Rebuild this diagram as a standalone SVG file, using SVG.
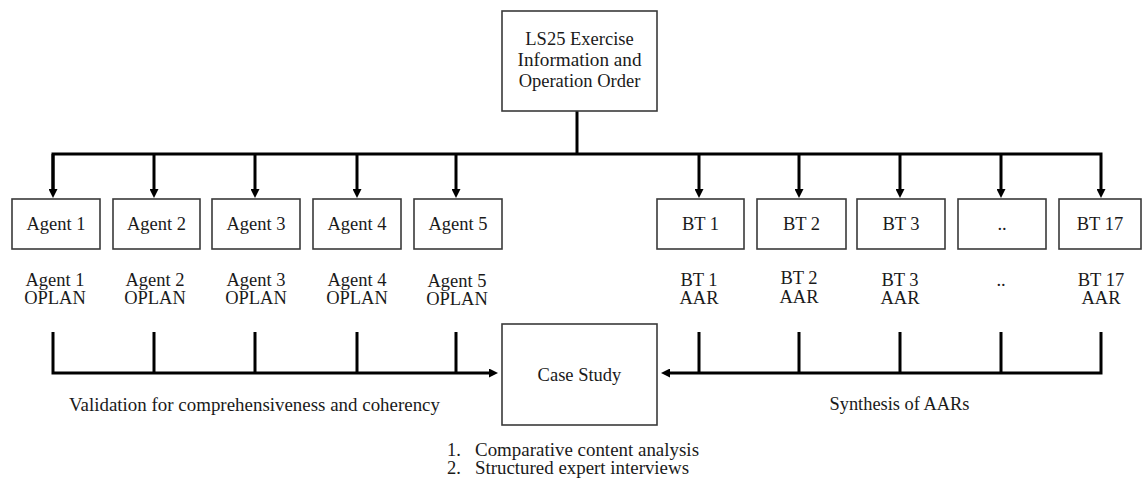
<svg xmlns="http://www.w3.org/2000/svg" width="1142" height="479" viewBox="0 0 1142 479">
<style>
.box{fill:#fff;stroke:#3a3a3a;stroke-width:1.6}
.t{font-family:"Liberation Serif","Times New Roman",serif;font-size:18.5px;fill:#1a1a1a;text-anchor:middle}
.tl{font-family:"Liberation Serif","Times New Roman",serif;font-size:18.5px;fill:#1a1a1a}
.c{fill:none;stroke:#000;stroke-width:3}
</style>
<defs>
<marker id="ah" markerUnits="userSpaceOnUse" viewBox="0 0 9 9" refX="5" refY="4.5" markerWidth="9" markerHeight="9" orient="auto">
<path d="M0,0 L9,4.5 L0,9 z" fill="#000"/>
</marker>
</defs>
<rect width="1142" height="479" fill="#fff"/>
<g id="connectors">
<path class="c" d="M577,111 V154"/>
<path class="c" d="M53,194 V154 H1101 V194" marker-end="url(#ah)"/>
<path class="c" d="M53,154 V194" marker-end="url(#ah)"/>
<path class="c" d="M154,154 V194" marker-end="url(#ah)"/>
<path class="c" d="M255,154 V194" marker-end="url(#ah)"/>
<path class="c" d="M357,154 V194" marker-end="url(#ah)"/>
<path class="c" d="M456,154 V194" marker-end="url(#ah)"/>
<path class="c" d="M699,154 V194" marker-end="url(#ah)"/>
<path class="c" d="M799,154 V194" marker-end="url(#ah)"/>
<path class="c" d="M900,154 V194" marker-end="url(#ah)"/>
<path class="c" d="M1001,154 V194" marker-end="url(#ah)"/>
<path class="c" d="M53,332 V373 H494" marker-end="url(#ah)"/>
<path class="c" d="M154,332 V373 M255,332 V373 M357,332 V373 M456,332 V373"/>
<path class="c" d="M1101,332 V373 H665" marker-end="url(#ah)"/>
<path class="c" d="M699,332 V373 M799,332 V373 M900,332 V373 M1001,332 V373"/>
</g>
<g id="top">
<rect class="box" x="502" y="11" width="155" height="100"/>
<text class="t" x="579.5" y="45">LS25 Exercise</text>
<text class="t" x="579.5" y="66" textLength="124" lengthAdjust="spacingAndGlyphs">Information and</text>
<text class="t" x="579.5" y="87">Operation Order</text>
</g>
<g id="agent1"><rect class="box" x="12" y="199" width="88" height="50"/><text class="t" x="56" y="230">Agent 1</text></g>
<g id="agent2"><rect class="box" x="113" y="199" width="87" height="50"/><text class="t" x="156.5" y="230">Agent 2</text></g>
<g id="agent3"><rect class="box" x="212" y="199" width="88" height="50"/><text class="t" x="256" y="230">Agent 3</text></g>
<g id="agent4"><rect class="box" x="313" y="199" width="88" height="50"/><text class="t" x="357" y="230">Agent 4</text></g>
<g id="agent5"><rect class="box" x="414" y="199" width="88" height="50"/><text class="t" x="458" y="230">Agent 5</text></g>
<g id="bt1"><rect class="box" x="657" y="199" width="87" height="50"/><text class="t" x="700.5" y="230">BT 1</text></g>
<g id="bt2"><rect class="box" x="757" y="199" width="89" height="50"/><text class="t" x="801.5" y="230">BT 2</text></g>
<g id="bt3"><rect class="box" x="857" y="199" width="88" height="50"/><text class="t" x="901" y="230">BT 3</text></g>
<g id="btdots"><rect class="box" x="958" y="199" width="88" height="50"/><text class="t" x="1002" y="230">..</text></g>
<g id="bt17"><rect class="box" x="1059" y="199" width="82" height="50"/><text class="t" x="1100" y="230">BT 17</text></g>
<g id="labels">
<text class="t" x="55" y="286">Agent 1</text><text class="t" x="55" y="304">OPLAN</text>
<text class="t" x="155" y="286">Agent 2</text><text class="t" x="155" y="304">OPLAN</text>
<text class="t" x="256" y="286">Agent 3</text><text class="t" x="256" y="304">OPLAN</text>
<text class="t" x="357" y="286">Agent 4</text><text class="t" x="357" y="304">OPLAN</text>
<text class="t" x="457" y="287">Agent 5</text><text class="t" x="457" y="305">OPLAN</text>
<text class="t" x="699" y="286">BT 1</text><text class="t" x="699" y="304">AAR</text>
<text class="t" x="799" y="284">BT 2</text><text class="t" x="799" y="303">AAR</text>
<text class="t" x="900" y="286">BT 3</text><text class="t" x="900" y="304">AAR</text>
<text class="t" x="1001" y="286">..</text>
<text class="t" x="1101" y="286">BT 17</text><text class="t" x="1101" y="304">AAR</text>
</g>
<g id="casestudy">
<rect class="box" x="502" y="324" width="155" height="101"/>
<text class="t" x="579.5" y="381">Case Study</text>
</g>
<g id="notes">
<text class="t" x="254.5" y="411" textLength="371" lengthAdjust="spacingAndGlyphs">Validation for comprehensiveness and coherency</text>
<text class="t" x="899.5" y="410" textLength="140" lengthAdjust="spacingAndGlyphs">Synthesis of AARs</text>
<text class="tl" x="447" y="456">1.</text><text class="tl" x="475" y="456" textLength="224" lengthAdjust="spacingAndGlyphs">Comparative content analysis</text>
<text class="tl" x="447" y="474">2.</text><text class="tl" x="475" y="474" textLength="214" lengthAdjust="spacingAndGlyphs">Structured expert interviews</text>
</g>
</svg>
